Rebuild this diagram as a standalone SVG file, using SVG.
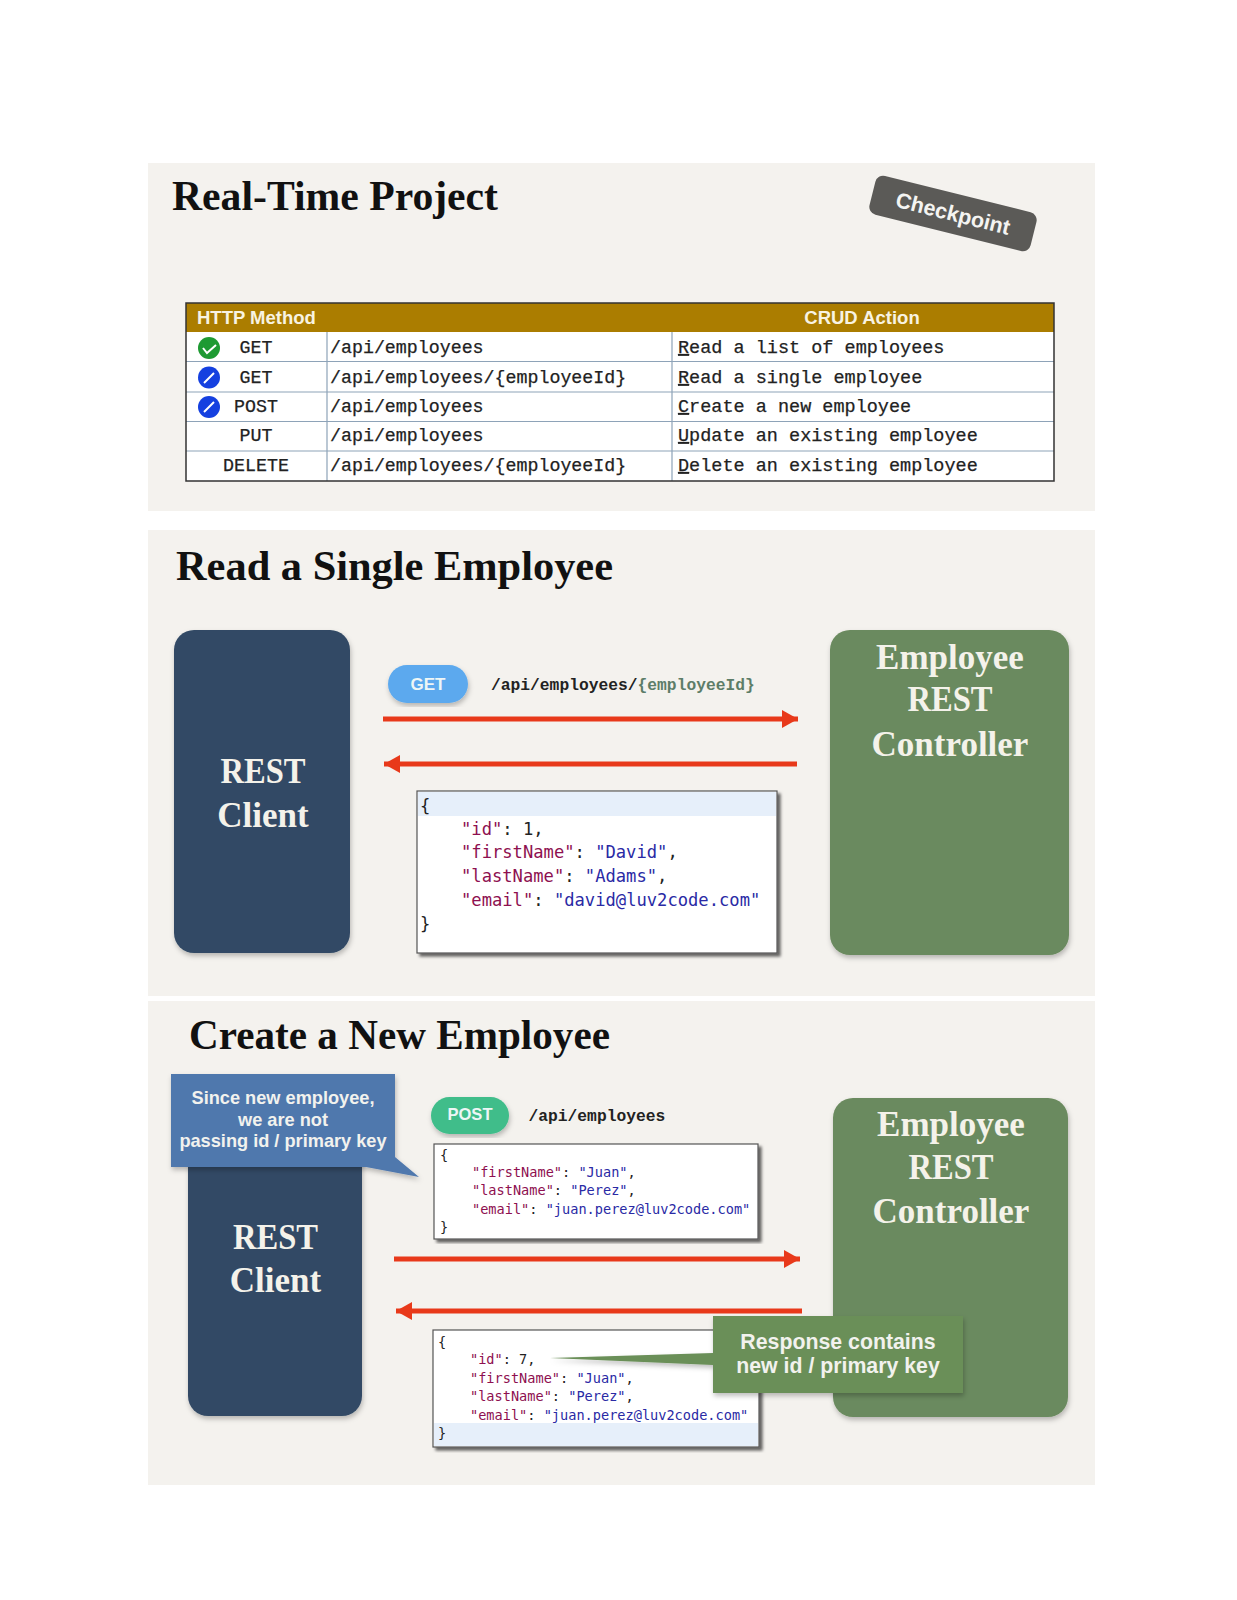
<svg xmlns="http://www.w3.org/2000/svg" width="1237" height="1600" viewBox="0 0 1237 1600">
<defs>
<filter id="soft" x="-10%" y="-10%" width="120%" height="120%"><feDropShadow dx="1" dy="3" stdDeviation="2.5" flood-color="#000" flood-opacity=".25"/></filter>
<filter id="hard" x="-5%" y="-5%" width="110%" height="110%"><feDropShadow dx="3" dy="3" stdDeviation="1.5" flood-color="#000" flood-opacity=".6"/></filter>
<marker id="ah" markerUnits="userSpaceOnUse" markerWidth="16" markerHeight="18" refX="16" refY="9" orient="auto-start-reverse"><path d="M0 0L16 9L0 18Z" fill="#e8391a"/></marker>
</defs>
<style>
.panel{fill:#f4f2ee}
.title{font:bold 42px "Liberation Serif",serif;fill:#111}
.big{font:bold 35px "Liberation Serif",serif;fill:#f4f2ea;text-anchor:middle}
.navy{fill:#324a65}
.green{fill:#6b8a5e}
.th{font:bold 18.500px "Liberation Sans",sans-serif;fill:#f8f3e2}
.td{font:18.300px "Liberation Mono",monospace;fill:#222;stroke:#222;stroke-width:.25}
.ac{font-size:18.500px}
.mid{text-anchor:middle}
.rule{stroke:#8ea3b8;stroke-width:1.2}
.edge{stroke:#333;stroke-width:1.500;fill:none}
.arrow{stroke:#e8391a;stroke-width:5;fill:none;marker-end:url(#ah)}
.json{fill:#fff;stroke:#555;stroke-width:1.2;filter:url(#hard)}
.hl{fill:#e6effa}
.j1{font:17.150px "DejaVu Sans Mono",monospace;fill:#222}
.j2{font:13.6px "DejaVu Sans Mono",monospace;fill:#222}
.k{fill:#8e1050}
.v{fill:#2a2aa5}
.url{font:bold 16.3px "Liberation Mono",monospace;fill:#222}
.pilltxt{font:bold 17px "Liberation Sans",sans-serif;fill:#eef6f6;text-anchor:middle}
.note{font:bold 18.200px "Liberation Sans",sans-serif;fill:#f2f2ee;text-anchor:middle}
.note2{font-size:21.300px}
.tick{stroke:#fff;stroke-width:2;fill:none}
</style>
<rect width="1237" height="1600" fill="#fff"/>
<rect class="panel" x="148" y="163" width="947" height="348"/>
<rect class="panel" x="148" y="530" width="947" height="466"/>
<rect class="panel" x="148" y="1001" width="947" height="484"/>

<g id="panel1-title"><text class="title" x="172" y="210" textLength="326" lengthAdjust="spacingAndGlyphs">Real-Time Project</text></g>
<g id="checkpoint" transform="rotate(14 953 213.5)">
<rect x="870" y="193.500" width="166" height="40" rx="8" fill="#5b5a57"/>
<text x="953" y="221" font-family="Liberation Sans, sans-serif" font-weight="bold" font-size="21.500" fill="#f4f4f2" text-anchor="middle">Checkpoint</text>
</g>
<g id="crud-table">
<rect x="186" y="303" width="868" height="178" fill="#fff"/>
<rect x="186" y="303" width="868" height="29" fill="#ab7d00"/>
<path class="rule" d="M186 361.500H1054M186 392H1054M186 421.500H1054M186 451H1054M327 332V481M672 332V481"/>
<path class="edge" d="M186 303H1054V481H186Z"/>
<text class="th" x="197" y="324">HTTP Method</text>
<text class="th mid" x="862" y="324">CRUD Action</text>
<text class="td mid" x="256" y="353">GET</text><text class="td" x="330" y="353">/api/employees</text><text class="td ac" x="678" y="353"><tspan text-decoration="underline">R</tspan>ead a list of employees</text>
<text class="td mid" x="256" y="383">GET</text><text class="td" x="330" y="383">/api/employees/{employeeId}</text><text class="td ac" x="678" y="383"><tspan text-decoration="underline">R</tspan>ead a single employee</text>
<text class="td mid" x="256" y="412">POST</text><text class="td" x="330" y="412">/api/employees</text><text class="td ac" x="678" y="412"><tspan text-decoration="underline">C</tspan>reate a new employee</text>
<text class="td mid" x="256" y="441">PUT</text><text class="td" x="330" y="441">/api/employees</text><text class="td ac" x="678" y="441"><tspan text-decoration="underline">U</tspan>pdate an existing employee</text>
<text class="td mid" x="256" y="471">DELETE</text><text class="td" x="330" y="471">/api/employees/{employeeId}</text><text class="td ac" x="678" y="471"><tspan text-decoration="underline">D</tspan>elete an existing employee</text>
<circle cx="209" cy="348" r="11" fill="#1e9a32"/><path class="tick" d="M203 348l4 5l9-8"/>
<circle cx="209" cy="377.500" r="11" fill="#1540e0"/><path class="tick" d="M204 383l10-10"/>
<circle cx="209" cy="407" r="11" fill="#1540e0"/><path class="tick" d="M204 412l10-10"/>
</g>

<g id="panel2-title"><text class="title" x="176" y="580" textLength="437" lengthAdjust="spacingAndGlyphs">Read a Single Employee</text></g>
<g id="rest-client-1"><rect class="navy" x="174" y="630" width="176" height="323" rx="20" filter="url(#soft)"/>
<text class="big" x="263" y="783" textLength="85" lengthAdjust="spacingAndGlyphs">REST</text><text class="big" x="263" y="827">Client</text></g>
<g id="controller-1"><rect class="green" x="830" y="630" width="239" height="325" rx="20" filter="url(#soft)"/>
<text class="big" x="950" y="669">Employee</text><text class="big" x="950" y="711" textLength="85" lengthAdjust="spacingAndGlyphs">REST</text><text class="big" x="950" y="756">Controller</text></g>
<g id="get-request"><rect x="388" y="665" width="80" height="38" rx="19" fill="#5ba9ee" filter="url(#soft)"/>
<text class="pilltxt" x="428" y="690">GET</text>
<text class="url" x="491" y="690">/api/employees/<tspan fill="#5d7d68">{employeeId}</tspan></text></g>
<g id="json-response-1"><rect class="json" x="417" y="791" width="360" height="162"/><rect class="hl" x="418" y="792" width="358" height="24"/>
<text class="j1" x="420" y="812">{</text>
<text class="j1" x="461" y="835"><tspan class="k">"id"</tspan>: 1,</text>
<text class="j1" x="461" y="858"><tspan class="k">"firstName"</tspan>: <tspan class="v">"David"</tspan>,</text>
<text class="j1" x="461" y="882"><tspan class="k">"lastName"</tspan>: <tspan class="v">"Adams"</tspan>,</text>
<text class="j1" x="461" y="906"><tspan class="k">"email"</tspan>: <tspan class="v">"david@luv2code.com"</tspan></text>
<text class="j1" x="420" y="930">}</text></g>

<g id="panel3-title"><text class="title" x="189" y="1049" textLength="421" lengthAdjust="spacingAndGlyphs">Create a New Employee</text></g>
<g id="rest-client-2"><rect class="navy" x="188" y="1100" width="174" height="316" rx="20" filter="url(#soft)"/>
<text class="big" x="275.500" y="1249" textLength="85" lengthAdjust="spacingAndGlyphs">REST</text><text class="big" x="275.500" y="1292">Client</text></g>
<g id="controller-2"><rect class="green" x="833" y="1098" width="235" height="319" rx="20" filter="url(#soft)"/>
<text class="big" x="951" y="1136">Employee</text><text class="big" x="951" y="1179" textLength="85" lengthAdjust="spacingAndGlyphs">REST</text><text class="big" x="951" y="1223">Controller</text></g>
<g id="post-request"><rect x="431" y="1097" width="78" height="37" rx="18.500" fill="#3fbd8a" filter="url(#soft)"/>
<text class="pilltxt" x="470" y="1120" textLength="45" lengthAdjust="spacingAndGlyphs">POST</text>
<text class="url" x="528.500" y="1121">/api/employees</text></g>
<g id="json-request"><rect class="json" x="434" y="1144" width="324" height="95"/>
<text class="j2" x="440" y="1160">{</text>
<text class="j2" x="472" y="1177"><tspan class="k">"firstName"</tspan>: <tspan class="v">"Juan"</tspan>,</text>
<text class="j2" x="472" y="1195"><tspan class="k">"lastName"</tspan>: <tspan class="v">"Perez"</tspan>,</text>
<text class="j2" x="472" y="1214"><tspan class="k">"email"</tspan>: <tspan class="v">"juan.perez@luv2code.com"</tspan></text>
<text class="j2" x="440" y="1232">}</text></g>
<g id="json-response-2"><rect class="json" x="433" y="1330" width="326" height="117"/><rect class="hl" x="434" y="1423" width="324" height="23"/>
<text class="j2" x="438" y="1347">{</text>
<text class="j2" x="470" y="1364"><tspan class="k">"id"</tspan>: 7,</text>
<text class="j2" x="470" y="1383"><tspan class="k">"firstName"</tspan>: <tspan class="v">"Juan"</tspan>,</text>
<text class="j2" x="470" y="1401"><tspan class="k">"lastName"</tspan>: <tspan class="v">"Perez"</tspan>,</text>
<text class="j2" x="470" y="1420"><tspan class="k">"email"</tspan>: <tspan class="v">"juan.perez@luv2code.com"</tspan></text>
<text class="j2" x="438" y="1438">}</text></g>

<g id="connectors">
<path class="arrow" d="M383 719H798"/>
<path class="arrow" d="M797 764H384"/>
<path class="arrow" d="M394 1259H800"/>
<path class="arrow" d="M802 1311H396"/>
</g>

<g id="note-no-id"><path d="M171 1074H395V1157L419 1177L366 1167H171Z" fill="#5078ad" filter="url(#soft)"/>
<text class="note" x="283" y="1104">Since new employee,</text><text class="note" x="283" y="1126">we are not</text><text class="note" x="283" y="1147">passing id / primary key</text></g>
<g id="note-new-id"><path d="M713 1316H963V1393H713V1365L550 1358L713 1353Z" fill="#6a8f58" filter="url(#soft)"/>
<text class="note note2" x="838" y="1349">Response contains</text><text class="note note2" x="838" y="1373">new id / primary key</text></g>
</svg>
